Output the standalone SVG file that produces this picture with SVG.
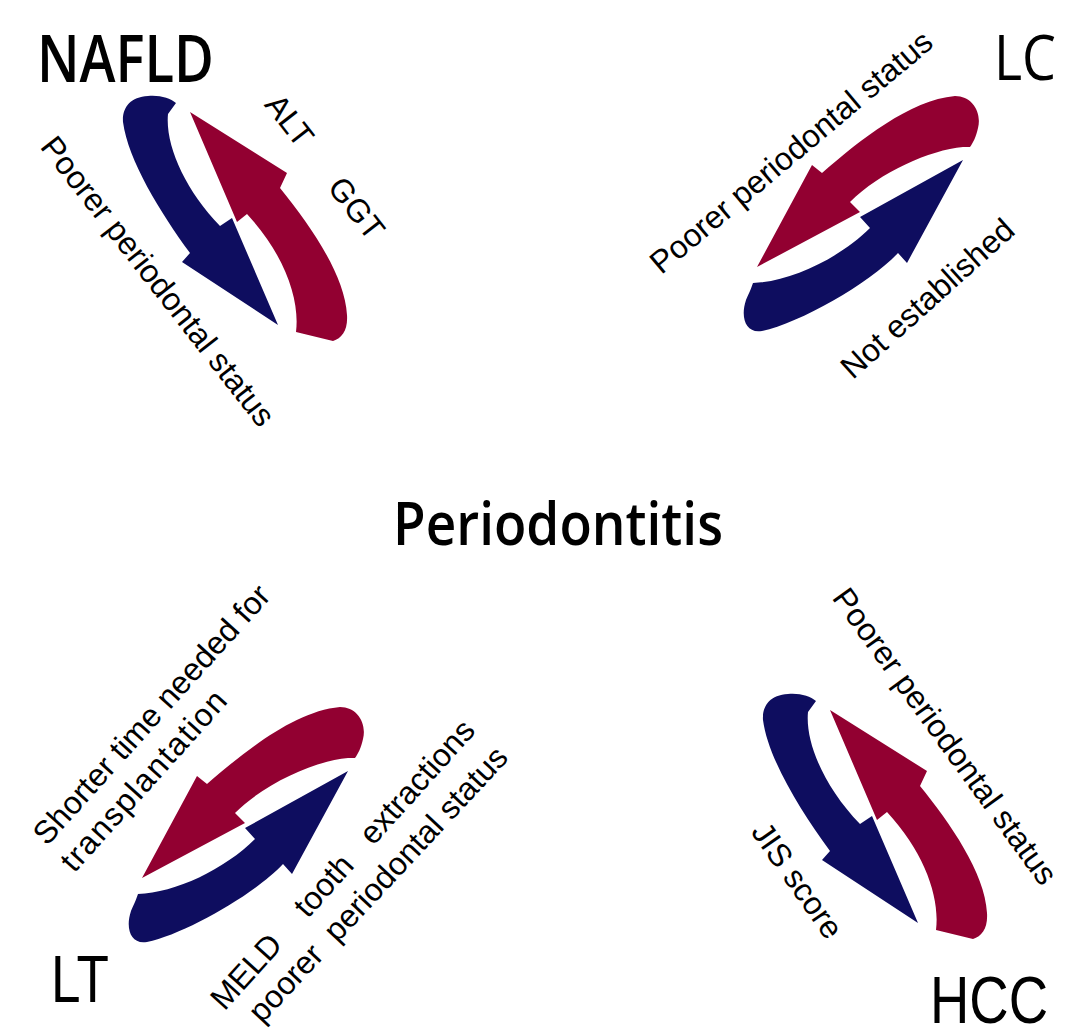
<svg xmlns="http://www.w3.org/2000/svg" xmlns:xlink="http://www.w3.org/1999/xlink" width="1084" height="1036" viewBox="0 0 1084 1036">
  <style>
    .blue { fill: #0e0d5f; }
    .red { fill: #920031; }
    .big { font-family: "Open Sans", "Noto Sans", sans-serif; fill: #000; }
    .cap { font-family: "Liberation Sans", Arial, sans-serif; fill: #000; }
    .lbl { font-family: "Liberation Sans", Arial, sans-serif; font-size: 32px; fill: #000; text-anchor: middle; white-space: pre; }
  </style>
  <defs>
    <g id="iconA">
      <path class="blue" d="M278,325 L182,262 L190,253 C160,212 128,160 123,122 C122,108 130,97 148,96 C160,95 170,98 176,103 L168,114 C165,145 185,190 220,226 L232,218 Z"/>
      <path class="red" d="M190,112 L287,173 L280,188 C310,225 345,275 347,315 C348,330 342,338 333,341 L296,332 C300,300 285,255 247,214 L237,222 Z"/>
    </g>
    <g id="iconB">
      <path class="red" d="M757,267 L812,165 L822,173 C860,140 910,100 955,96 C972,96 982,112 978,128 C976,137 973,143 970,147 L963,147 C930,150 880,172 850,202 L860,212 Z"/>
      <path class="blue" d="M963,160 L907,263 L898,253 C870,283 800,323 762,331 C746,334 740,318 746,300 C748,295 750,292 753,283 C790,282 840,258 870,228 L860,217 Z"/>
    </g>
  </defs>
  <rect width="1084" height="1036" fill="#fff"/>

  <g id="connectors">
    <use href="#iconA"/>
    <use href="#iconB"/>
    <use href="#iconB" transform="translate(-615,611)"/>
    <use href="#iconA" transform="translate(640,598)"/>
  </g>

  <g id="periodontitis">
    <text class="big" x="393" y="545" font-size="59" font-weight="600" textLength="330" lengthAdjust="spacingAndGlyphs">Periodontitis</text>
  </g>

  <g id="nafld">
    <text class="big" x="37" y="82" font-size="66" font-weight="600" textLength="177" lengthAdjust="spacingAndGlyphs">NAFLD</text>
    <text class="lbl" transform="translate(157,282) rotate(52)" dy="0.3em">Poorer periodontal status</text>
    <text class="lbl" transform="translate(290,120) rotate(52)" dy="0.36em">ALT</text>
    <text class="lbl" transform="translate(357,208) rotate(52)" dy="0.36em">GGT</text>
  </g>

  <g id="lc">
    <text class="big" x="994" y="80" font-size="63" textLength="62" lengthAdjust="spacingAndGlyphs">LC</text>
    <text class="lbl" transform="translate(792,153) rotate(-40)" dy="0.3em">Poorer periodontal status</text>
    <text class="lbl" transform="translate(927,298) rotate(-42)" dy="0.36em">Not established</text>
  </g>

  <g id="lt">
    <text class="cap" x="51" y="1002" font-size="66" textLength="58" lengthAdjust="spacingAndGlyphs">LT</text>
    <text class="lbl" transform="translate(151,714) rotate(-48)" dy="0.36em">Shorter time needed for</text>
    <text class="lbl" transform="translate(146,782) rotate(-48)" dy="0.25em" font-size="34" letter-spacing="1.5">transplantation</text>
    <text class="lbl" transform="translate(342,864) rotate(-48)" dy="0.36em" font-size="33">MELD    tooth   extractions</text>
    <text class="lbl" transform="translate(380,886) rotate(-47)" dy="0.25em">poorer  periodontal status</text>
  </g>

  <g id="hcc">
    <text class="cap" x="930" y="1023" font-size="66" textLength="118" lengthAdjust="spacingAndGlyphs">HCC</text>
    <text class="lbl" transform="translate(944,737) rotate(54)" dy="0.3em">Poorer periodontal status</text>
    <text class="lbl" transform="translate(798,880) rotate(55)" dy="0.36em">JIS score</text>
  </g>
</svg>
